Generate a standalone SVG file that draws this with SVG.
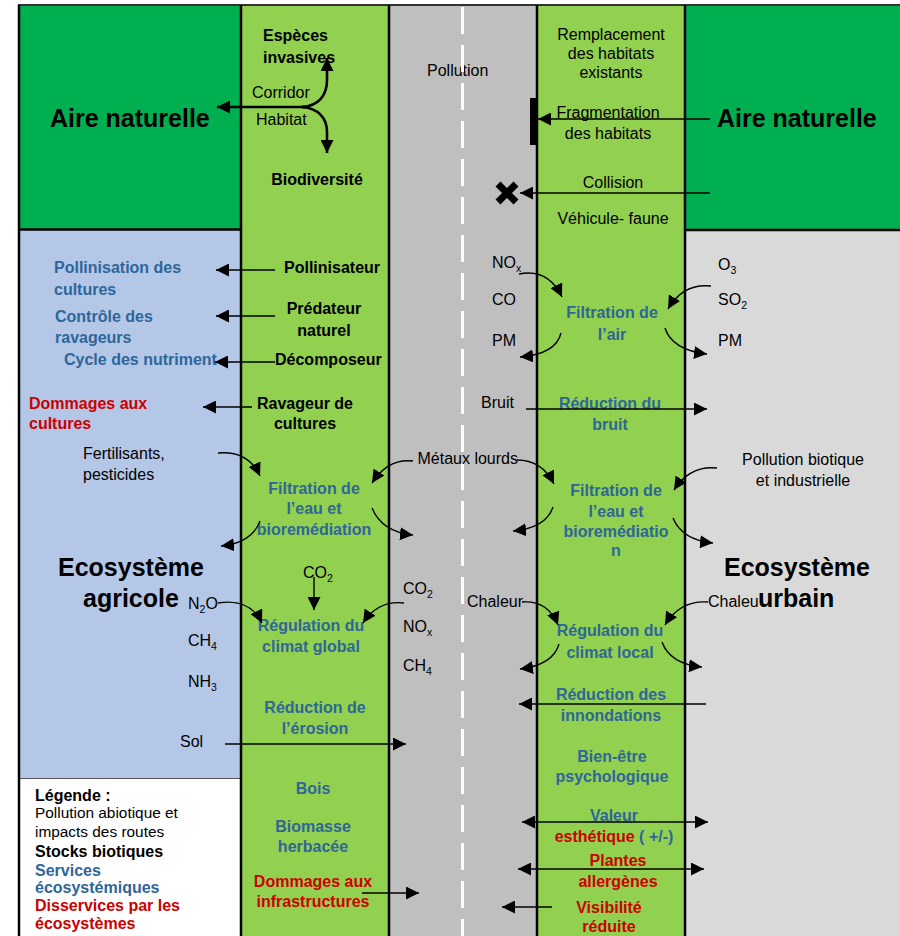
<svg xmlns="http://www.w3.org/2000/svg" width="900" height="936" viewBox="0 0 900 936">
  <defs>
    <marker id="ah" viewBox="0 0 13 13" refX="13" refY="6.5" markerWidth="13" markerHeight="13" markerUnits="userSpaceOnUse" orient="auto-start-reverse">
      <path d="M0,0 L13,6.5 L0,13 z" fill="#000"/>
    </marker>
    <style>
      text { font-family: "Liberation Sans", Arial, sans-serif; font-size: 16px; fill: #000; }
      .b { font-weight: bold; }
      .big { font-weight: bold; font-size: 25px; }
      .svc { font-weight: bold; fill: #2E6699; }
      .dis { font-weight: bold; fill: #CC0000; }
      .m { text-anchor: middle; }
      .e { text-anchor: end; }
      .lg { font-size: 15.4px; }
      .sub { font-size: 10.5px; }
      .arr { fill: none; stroke: #000; stroke-width: 1.4; marker-end: url(#ah); }
      .dbl { fill: none; stroke: #000; stroke-width: 1.4; marker-start: url(#ah); marker-end: url(#ah); }
      .thick { fill: none; stroke: #000; stroke-width: 2.6; marker-end: url(#ah); }
      .edge { stroke: #000; stroke-width: 2.5; }
    </style>
  </defs>

  <!-- land zones -->
  <g id="zones">
    <rect x="18" y="5" width="223" height="225" fill="#00B050"/>
    <rect x="685" y="5" width="215" height="225" fill="#00B050"/>
    <rect x="18" y="230" width="223" height="548" fill="#B4C7E7"/>
    <rect x="685" y="230" width="215" height="706" fill="#D9D9D9"/>
    <rect x="241" y="5" width="148" height="931" fill="#92D050"/>
    <rect x="537" y="5" width="148" height="931" fill="#92D050"/>
    <rect x="389" y="5" width="148" height="931" fill="#BFBFBF"/>
    <rect x="18.5" y="778.5" width="222" height="160" fill="#FFFFFF" stroke="#555" stroke-width="1"/>
  </g>

  <!-- zone borders -->
  <g id="borders">
    <line x1="18" y1="5" x2="900" y2="5" stroke="#333" stroke-width="2"/>
    <line class="edge" x1="19" y1="5" x2="19" y2="936"/>
    <line class="edge" x1="18" y1="229.5" x2="241" y2="229.5"/>
    <line class="edge" x1="685" y1="230" x2="900" y2="230"/>
    <line class="edge" x1="241" y1="5" x2="241" y2="936"/>
    <line class="edge" x1="389" y1="5" x2="389" y2="936"/>
    <line class="edge" x1="537" y1="5" x2="537" y2="936"/>
    <line class="edge" x1="685" y1="5" x2="685" y2="936"/>
  </g>

  <g id="pollution-route"><text x="427" y="76">Pollution</text></g>

  <!-- road centre line -->
  <line id="road-centre" x1="462.5" y1="7" x2="462.5" y2="936" stroke="#FFFFFF" stroke-width="3" stroke-dasharray="27 11"/>

  <!-- top: natural areas -->
  <g id="aire-naturelle-gauche"><text class="big" x="50" y="127">Aire naturelle</text></g>
  <g id="aire-naturelle-droite"><text class="big" x="717" y="127">Aire naturelle</text></g>
  <g id="especes-invasives"><text class="b" x="263" y="41">Espèces</text><text class="b" x="263" y="63">invasives</text></g>
  <g id="corridor"><text x="252" y="98">Corridor</text></g>
  <g id="habitat"><text x="256" y="125">Habitat</text></g>
  <g id="biodiversite"><text class="b m" x="317" y="185">Biodiversité</text></g>
  <g id="remplacement"><text class="m" x="611" y="40">Remplacement</text><text class="m" x="611" y="59">des habitats</text><text class="m" x="611" y="78">existants</text></g>
  <g id="fragmentation"><text class="m" x="608" y="118">Fragmentation</text><text class="m" x="608" y="139">des habitats</text></g>
  <g id="collision"><text class="m" x="613" y="188">Collision</text><text class="m" x="613" y="224">Véhicule- faune</text></g>

  <!-- agricultural side -->
  <g id="pollinisateur"><text class="b" x="284" y="273">Pollinisateur</text></g>
  <g id="predateur"><text class="b m" x="324" y="314">Prédateur</text><text class="b m" x="324" y="336">naturel</text></g>
  <g id="decomposeur"><text class="b" x="275" y="365">Décomposeur</text></g>
  <g id="ravageur"><text class="b m" x="305" y="409">Ravageur de</text><text class="b m" x="305" y="429">cultures</text></g>
  <g id="pollinisation"><text class="svc" x="54" y="273">Pollinisation des</text><text class="svc" x="54" y="295">cultures</text></g>
  <g id="controle"><text class="svc" x="55" y="322">Contrôle des</text><text class="svc" x="55" y="343">ravageurs</text></g>
  <g id="cycle-nutriments"><text class="svc" x="64" y="365">Cycle des nutriment</text></g>
  <g id="dommages-cultures"><text class="dis" x="29" y="409">Dommages aux</text><text class="dis" x="29" y="429">cultures</text></g>
  <g id="fertilisants"><text x="83" y="459">Fertilisants,</text><text x="83" y="480">pesticides</text></g>
  <g id="filtration-eau-gauche"><text class="svc m" x="314" y="494">Filtration de</text><text class="svc m" x="314" y="514">l’eau et</text><text class="svc m" x="314" y="535">bioremédiation</text></g>
  <g id="ecosysteme-agricole"><text class="big" x="58" y="576">Ecosystème</text><text class="big" x="83" y="607">agricole</text></g>
  <g id="gaz-agricoles">
    <text x="188" y="609">N<tspan class="sub" dy="4">2</tspan><tspan dy="-4">O</tspan></text>
    <text x="188" y="646">CH<tspan class="sub" dy="4">4</tspan></text>
    <text x="188" y="687">NH<tspan class="sub" dy="4">3</tspan></text>
  </g>
  <g id="co2-vegetation"><text x="303" y="578">CO<tspan class="sub" dy="4">2</tspan></text></g>
  <g id="climat-global"><text class="svc m" x="311" y="631">Régulation du</text><text class="svc m" x="311" y="652">climat global</text></g>
  <g id="erosion"><text class="svc m" x="315" y="713">Réduction de</text><text class="svc m" x="315" y="734">l’érosion</text></g>
  <g id="sol"><text x="180" y="747">Sol</text></g>
  <g id="bois"><text class="svc m" x="313" y="794">Bois</text></g>
  <g id="biomasse"><text class="svc m" x="313" y="832">Biomasse</text><text class="svc m" x="313" y="852">herbacée</text></g>
  <g id="dommages-infra"><text class="dis m" x="313" y="887">Dommages aux</text><text class="dis m" x="313" y="907">infrastructures</text></g>

  <!-- road pollutants -->
  <g id="polluants-air-route">
    <text x="492" y="268">NO<tspan class="sub" dy="4">x</tspan></text>
    <text x="492" y="305">CO</text>
    <text x="492" y="346">PM</text>
  </g>
  <g id="bruit"><text x="481" y="408">Bruit</text></g>
  <g id="metaux-lourds"><text class="e" x="518" y="464">Métaux lourds</text></g>
  <g id="gaz-route">
    <text x="403" y="594">CO<tspan class="sub" dy="4">2</tspan></text>
    <text x="403" y="632">NO<tspan class="sub" dy="4">x</tspan></text>
    <text x="403" y="671">CH<tspan class="sub" dy="4">4</tspan></text>
  </g>
  <g id="chaleur-route"><text x="467" y="607">Chaleur</text></g>

  <!-- urban side -->
  <g id="filtration-air"><text class="svc m" x="612" y="318">Filtration de</text><text class="svc m" x="612" y="340">l’air</text></g>
  <g id="polluants-urbains">
    <text x="718" y="270">O<tspan class="sub" dy="4">3</tspan></text>
    <text x="718" y="305">SO<tspan class="sub" dy="4">2</tspan></text>
    <text x="718" y="346">PM</text>
  </g>
  <g id="reduction-bruit"><text class="svc m" x="610" y="409">Réduction du</text><text class="svc m" x="610" y="430">bruit</text></g>
  <g id="filtration-eau-droite"><text class="svc m" x="616" y="496">Filtration de</text><text class="svc m" x="616" y="517">l’eau et</text><text class="svc m" x="616" y="537">bioremédiatio</text><text class="svc m" x="616" y="556">n</text></g>
  <g id="pollution-biotique"><text class="m" x="803" y="465">Pollution biotique</text><text class="m" x="803" y="486">et industrielle</text></g>
  <g id="ecosysteme-urbain"><text class="big" x="724" y="576">Ecosystème</text><text class="big" x="758" y="607">urbain</text></g>
  <g id="chaleur-ville"><text x="708" y="607">Chaleu</text></g>
  <g id="climat-local"><text class="svc m" x="610" y="636">Régulation du</text><text class="svc m" x="610" y="658">climat local</text></g>
  <g id="innondations"><text class="svc m" x="611" y="700">Réduction des</text><text class="svc m" x="611" y="721">innondations</text></g>
  <g id="bien-etre"><text class="svc m" x="612" y="762">Bien-être</text><text class="svc m" x="612" y="782">psychologique</text></g>
  <g id="valeur-esthetique"><text class="svc m" x="614" y="821">Valeur</text><text class="m b" x="614" y="842"><tspan fill="#CC0000">esthétique</tspan><tspan fill="#2E6699"> ( +/-)</tspan></text></g>
  <g id="plantes-allergenes"><text class="dis m" x="618" y="866">Plantes</text><text class="dis m" x="618" y="887">allergènes</text></g>
  <g id="visibilite"><text class="dis m" x="609" y="913">Visibilité</text><text class="dis m" x="609" y="932">réduite</text></g>

  <!-- legend -->
  <g id="legende">
    <text class="b" x="35" y="801">Légende :</text>
    <text class="lg" x="35" y="818">Pollution abiotique et</text>
    <text class="lg" x="35" y="837">impacts des routes</text>
    <text class="b" x="35" y="857">Stocks biotiques</text>
    <text class="svc" x="35" y="876">Services</text>
    <text class="svc" x="35" y="893">écosystémiques</text>
    <text class="dis" x="35" y="911">Disservices par les</text>
    <text class="dis" x="35" y="929">écosystèmes</text>
  </g>

  <!-- connectors -->
  <g id="connectors">
    <!-- corridor / habitat -->
    <path class="thick" d="M305,107 L217,107"/>
    <path class="thick" d="M302,107 C318,106 327,96 327,80 L327,58"/>
    <path class="thick" d="M302,107 C318,108 327,118 327,132 L327,153"/>
    <!-- barrier and collision -->
    <rect x="530" y="98" width="7" height="47" fill="#000"/>
    <path class="arr" d="M710,119 L538,119"/>
    <path class="arr" d="M710,193 L520,193"/>
    <path d="M498,184 L516,202 M516,184 L498,202" stroke="#000" stroke-width="7"/>
    <!-- biotic stocks to agriculture -->
    <path class="arr" d="M275,270 L216,270"/>
    <path class="arr" d="M275,316 L216,316"/>
    <path class="arr" d="M275,362 L215,362"/>
    <path class="arr" d="M252,407 L203,407"/>
    <!-- air filtration -->
    <path class="arr" d="M519,274 Q548,268 562,297"/>
    <path class="arr" d="M561,333 Q556,354 520,357"/>
    <path class="arr" d="M665,328 Q672,350 707,354"/>
    <path class="arr" d="M711,286 Q683,283 668,309"/>
    <!-- noise -->
    <path class="arr" d="M526,409 L707,409"/>
    <!-- water filtration -->
    <path class="arr" d="M218,453 Q248,450 260,476"/>
    <path class="arr" d="M260,521 Q252,543 221,546"/>
    <path class="arr" d="M372,508 Q382,532 413,535"/>
    <path class="arr" d="M413,461 Q388,458 372,483"/>
    <path class="arr" d="M517,460 Q542,460 554,484"/>
    <path class="arr" d="M553,507 Q546,528 513,531"/>
    <path class="arr" d="M673,518 Q682,540 713,543"/>
    <path class="arr" d="M717,468 Q690,465 674,490"/>
    <!-- climate -->
    <path class="arr" d="M314,577 L314,610"/>
    <path class="arr" d="M218,603 Q250,598 262,623"/>
    <path class="arr" d="M404,603 Q378,600 363,623"/>
    <path class="arr" d="M522,602 Q548,600 558,625"/>
    <path class="arr" d="M708,602 Q680,600 665,625"/>
    <path class="arr" d="M559,644 Q553,665 520,669"/>
    <path class="arr" d="M662,642 Q670,664 702,667"/>
    <!-- lower section -->
    <path class="arr" d="M706,704 L519,704"/>
    <path class="arr" d="M225,744 L406,744"/>
    <path class="dbl" d="M522,822 L708,822"/>
    <path class="dbl" d="M518,869 L704,869"/>
    <path class="arr" d="M362,893 L419,893"/>
    <path class="arr" d="M552,907 L502,907"/>
  </g>
</svg>
